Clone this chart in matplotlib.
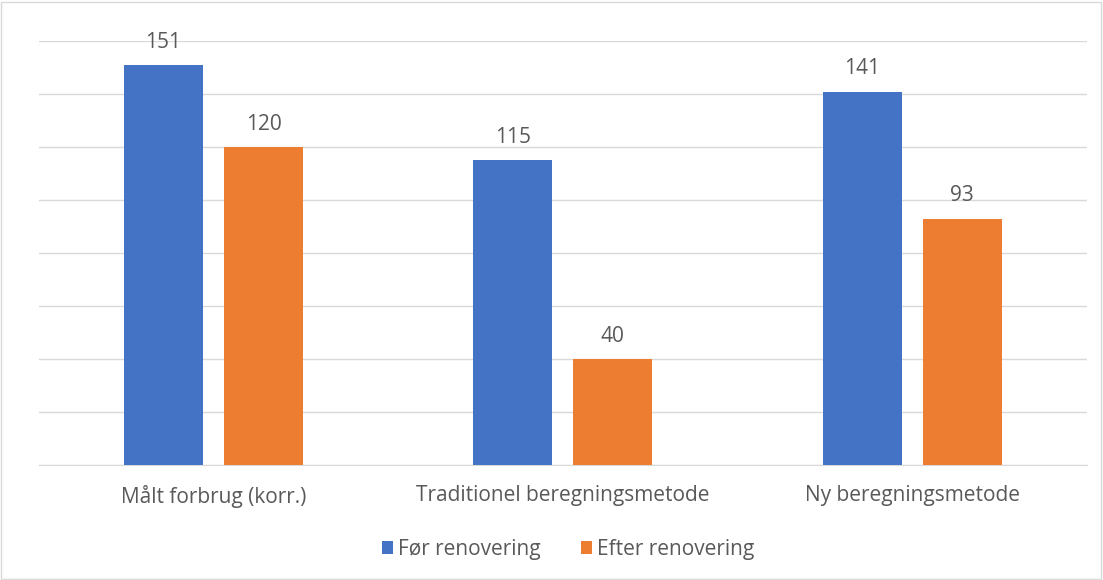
import matplotlib
matplotlib.use("Agg")
from matplotlib import pyplot as plt
from matplotlib.patches import Rectangle
import numpy as np

categories = ["Målt forbrug (korr.)", "Traditionel beregningsmetode", "Ny beregningsmetode"]
foer = [151, 115, 141]
efter = [120, 40, 93]
series_names = ["Før renovering", "Efter renovering"]

plt.rcParams["font.family"] = ["Open Sans", "DejaVu Sans"]
text_color = "#595959"

fig = plt.figure(figsize=(11.03, 5.8), dpi=100)
ax = fig.add_axes([0.0352, 0.198, 0.9502, 0.731])

x = np.arange(len(categories))
w = 0.226
off = 0.143
b1 = ax.bar(x - off, foer, w, color="#4472C4", label=series_names[0], zorder=3)
b2 = ax.bar(x + off, efter, w, color="#ED7D31", label=series_names[1], zorder=3)

for bars in (b1, b2):
    for rect in bars:
        ax.annotate(str(int(rect.get_height())),
                    (rect.get_x() + rect.get_width() / 2, rect.get_height()),
                    xytext=(0, 9), textcoords="offset points",
                    ha="center", va="bottom", fontsize=15, color=text_color)

ax.set_xlim(-0.5, 2.5)
ax.set_ylim(0, 160)
ax.set_yticks(np.arange(0, 161, 20))
ax.set_yticklabels([])
ax.tick_params(axis="y", length=0)
ax.grid(axis="y", color="#D9D9D9", linewidth=1, zorder=0)
ax.set_xticks(x)
ax.set_xticklabels(categories, fontsize=15, color=text_color)
ax.tick_params(axis="x", length=0, pad=14)
for s in ("top", "right", "left"):
    ax.spines[s].set_visible(False)
ax.spines["bottom"].set_color("#D9D9D9")

fig.legend(handles=[b1, b2], loc="center", bbox_to_anchor=(0.515, 0.053),
           ncol=2, frameon=False, fontsize=15, labelcolor=text_color,
           handlelength=0.55, handleheight=0.55, handletextpad=0.25, columnspacing=1.9)

fig.patches.append(Rectangle((0.001, 0.002), 0.997, 0.995, transform=fig.transFigure,
                             fill=False, edgecolor="#D9D9D9", linewidth=1))

fig.savefig("out.png", dpi=100)
